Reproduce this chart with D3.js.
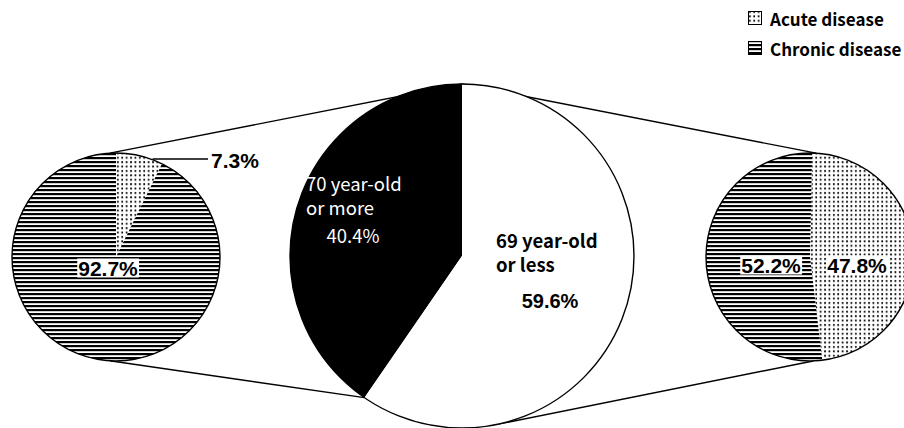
<!DOCTYPE html>
<html>
<head>
<meta charset="utf-8">
<script src="https://cdn.jsdelivr.net/npm/d3@7/dist/d3.min.js"></script>
<style>
  html, body { margin: 0; padding: 0; background: #fff; }
  svg { display: block; }
</style>
</head>
<body>
<svg id="chart" width="904" height="428"></svg>
<script>
// ---- data ----
const ageCategories = ["70 year-old or more", "69 year-old or less"];
const ageValues = [40.4, 59.6];
const diseaseCategories = ["Acute disease", "Chronic disease"];
const olderDiseaseValues = [7.3, 92.7];    // 70 year-old or more
const youngerDiseaseValues = [47.8, 52.2]; // 69 year-old or less

const svg = d3.select("#chart");

// ---- patterns ----
const defs = svg.append("defs");
const dots = defs.append("pattern").attr("id", "dots")
  .attr("patternUnits", "userSpaceOnUse").attr("width", 4.4).attr("height", 4.4);
dots.append("rect").attr("width", 4.4).attr("height", 4.4).attr("fill", "#fff");
dots.append("rect").attr("x", 1).attr("y", 1).attr("width", 1.7).attr("height", 1.9).attr("fill", "#000");

const stripes = defs.append("pattern").attr("id", "stripes")
  .attr("patternUnits", "userSpaceOnUse").attr("width", 8).attr("height", 4);
stripes.append("rect").attr("width", 8).attr("height", 4).attr("fill", "#fff");
stripes.append("rect").attr("y", 0).attr("width", 8).attr("height", 2.2).attr("fill", "#000");

const diseaseFill = d3.scaleOrdinal().domain(diseaseCategories).range(["url(#dots)", "url(#stripes)"]);
const ageFill = d3.scaleOrdinal().domain(ageCategories).range(["#000", "#fff"]);

// ---- geometry ----
const main = { cx: 462, cy: 256, r: 172 };
const left = { cx: 116, cy: 257, r: 104 };
const right = { cx: 810, cy: 257, r: 104 };
const TAU = Math.PI * 2;

function pt(c, a, r) { r = r === undefined ? c.r : r; return [c.cx + r * Math.sin(a), c.cy - r * Math.cos(a)]; }

// ---- main pie ----
const ageTotal = d3.sum(ageValues);
const mainStart = -TAU * ageValues[0] / ageTotal;
const mainPie = d3.pie().sort(null).startAngle(mainStart).endAngle(mainStart + TAU);
const mainArcs = mainPie(ageValues);
const mainArc = d3.arc().innerRadius(0).outerRadius(main.r);

// ---- secondary pies ----
const leftArcs = d3.pie().sort(null)(olderDiseaseValues);
const rightStart = 0.02;
const rightArcs = d3.pie().sort(null).startAngle(rightStart).endAngle(rightStart + TAU)(youngerDiseaseValues);
const smallArc = d3.arc().innerRadius(0).outerRadius(left.r);

// ---- connector lines ----
function tangentPoint(c, p, sign) {
  const dx = p[0] - c.cx, dy = p[1] - c.cy;
  const d = Math.hypot(dx, dy);
  const base = Math.atan2(dy, dx);
  const off = Math.acos(c.r / d);
  const a = base + sign * off;
  return [c.cx + c.r * Math.cos(a), c.cy + c.r * Math.sin(a)];
}
const mainTop = pt(main, 0);
const mainBlackEnd = pt(main, mainStart);
const leftTop = pt(left, -0.06);
const leftBottom = pt(left, Math.PI + 0.06);
const rightTop = pt(right, 0.06);
const rightBottom = pt(right, Math.PI - 0.03);
const rightBottomMain = tangentPoint(main, rightBottom, 1);

const connectors = [
  [leftTop, mainTop],
  [leftBottom, mainBlackEnd],
  [mainTop, rightTop],
  [rightBottomMain, rightBottom]
];
svg.append("g").selectAll("line").data(connectors).join("line")
  .attr("x1", d => d[0][0]).attr("y1", d => d[0][1])
  .attr("x2", d => d[1][0]).attr("y2", d => d[1][1])
  .attr("stroke", "#000").attr("stroke-width", 1.4);

// main
const gMain = svg.append("g").attr("transform", `translate(${main.cx},${main.cy})`);
gMain.selectAll("path").data(mainArcs).join("path")
  .attr("d", mainArc).attr("fill", (d, i) => ageFill(ageCategories[i]));
gMain.append("circle").attr("r", main.r).attr("fill", "none").attr("stroke", "#000").attr("stroke-width", 1.4);

// left
const gLeft = svg.append("g").attr("transform", `translate(${left.cx},${left.cy})`);
gLeft.selectAll("path").data(leftArcs).join("path")
  .attr("d", smallArc).attr("fill", (d, i) => diseaseFill(diseaseCategories[i]));
gLeft.append("circle").attr("r", left.r).attr("fill", "none").attr("stroke", "#000").attr("stroke-width", 1.4);

// right
const gRight = svg.append("g").attr("transform", `translate(${right.cx},${right.cy})`);
gRight.selectAll("path").data(rightArcs).join("path")
  .attr("d", smallArc).attr("fill", (d, i) => diseaseFill(diseaseCategories[i]));
gRight.append("circle").attr("r", right.r).attr("fill", "none").attr("stroke", "#000").attr("stroke-width", 1.4);

// ---- labels ----
const fontMain = "'Noto Sans CJK JP', 'Noto Sans', sans-serif";
const fontPct = "'Liberation Sans', Arial, sans-serif";
const fmt = v => v.toFixed(1) + "%";

// main pie labels
const tMainBlack = svg.append("g").attr("fill", "#fff").attr("font-family", fontMain).attr("font-size", 18.5);
tMainBlack.append("text").attr("x", 306).attr("y", 191).text("70 year-old");
tMainBlack.append("text").attr("x", 306).attr("y", 215).text("or more");
tMainBlack.append("text").attr("x", 353).attr("y", 243).attr("text-anchor", "middle").text(fmt(ageValues[0]));

const tMainWhite = svg.append("g").attr("fill", "#000").attr("font-family", fontMain).attr("font-size", 18.5).attr("font-weight", "bold");
tMainWhite.append("text").attr("x", 496).attr("y", 248).text("69 year-old");
tMainWhite.append("text").attr("x", 496).attr("y", 272).text("or less");
tMainWhite.append("text").attr("x", 550).attr("y", 308).attr("text-anchor", "middle")
  .attr("font-family", fontPct).attr("font-size", 20).text(fmt(ageValues[1]));

// percentage labels with white boxes
function boxLabel(x, y, txt) {
  const g = svg.append("g");
  const t = g.append("text").attr("x", x).attr("y", y).attr("text-anchor", "middle")
    .attr("dominant-baseline", "central")
    .attr("font-family", fontPct).attr("font-weight", "bold").attr("font-size", 21).text(txt);
  const b = t.node().getBBox();
  g.insert("rect", "text").attr("x", b.x - 1).attr("y", b.y + 2).attr("width", b.width + 2).attr("height", b.height - 4).attr("fill", "#fff");
}
boxLabel(108, 268, fmt(olderDiseaseValues[1]));
boxLabel(771, 265, fmt(youngerDiseaseValues[1]));
boxLabel(857, 265, fmt(youngerDiseaseValues[0]));

// 7.3% leader
const leaderStart = pt(left, 0.36);
svg.append("line").attr("x1", leaderStart[0]).attr("y1", 159).attr("x2", 208).attr("y2", 159)
  .attr("stroke", "#000").attr("stroke-width", 1.4);
svg.append("text").attr("x", 211).attr("y", 160).attr("dominant-baseline", "central")
  .attr("font-family", fontPct).attr("font-weight", "bold").attr("font-size", 21).text(fmt(olderDiseaseValues[0]));

// ---- legend ----
const legend = svg.append("g").attr("transform", "translate(748,10)");
const li = legend.selectAll("g").data(diseaseCategories).join("g")
  .attr("transform", (d, i) => `translate(0,${i * 30})`);
li.append("rect").attr("x", 0.5).attr("y", 1.5).attr("width", 13).attr("height", 13)
  .attr("fill", d => diseaseFill(d)).attr("stroke", "#000").attr("stroke-width", 1);
li.append("text").attr("x", 22).attr("y", 8.5).attr("dominant-baseline", "central")
  .attr("font-family", fontMain).attr("font-size", 17).attr("font-weight", "bold").text(d => d);
</script>
</body>
</html>
